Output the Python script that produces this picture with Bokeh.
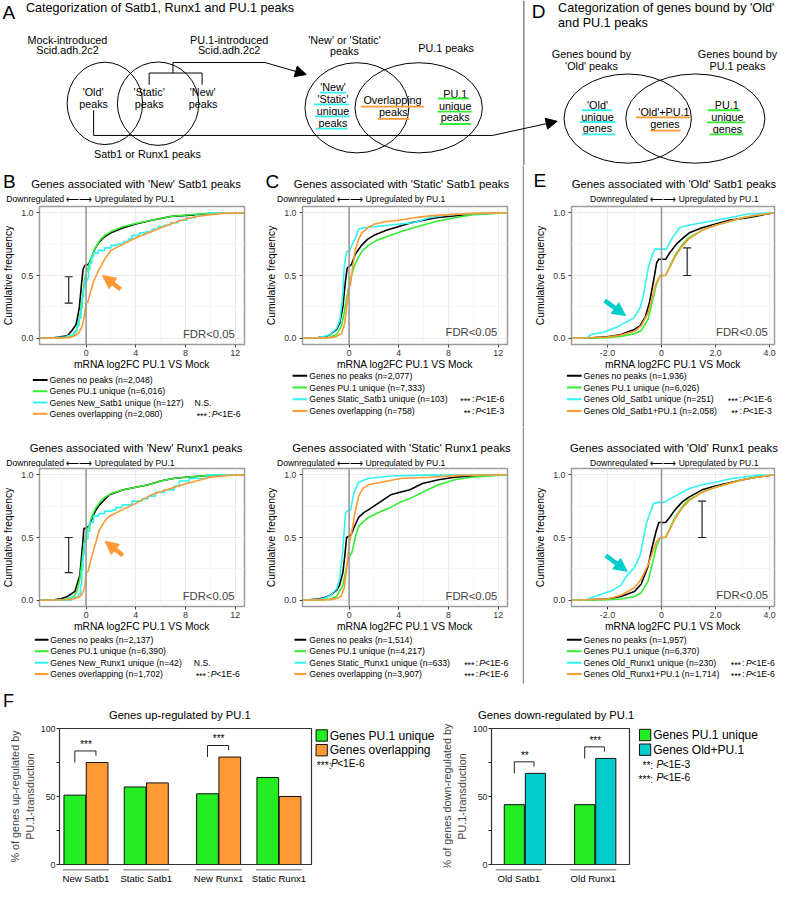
import math
from bokeh.plotting import figure
from bokeh.layouts import column, row
from bokeh.models import (Range1d, FixedTicker, Label, Arrow, NormalHead, TeeHead, Whisker,
                          ColumnDataSource, Span, LinearAxis, NumeralTickFormatter)
from bokeh.core.properties import value
from bokeh.embed import file_html
from bokeh.resources import INLINE

# ======================= DATA =======================
# Panel B (top): genes associated with 'New' Satb1 peaks
ns_black_x = [-3.75, -2.5, -1.5, -1.15, -0.8, -0.55, -0.37, -0.24, -0.1, 0.2, 0.4, 0.7, 1.07, 1.5, 2.0, 3.0, 4.0, 5.3, 6.8, 9.0, 11.5, 12.75]
ns_black_y = [0.0, 0.005, 0.02, 0.06, 0.11, 0.24, 0.43, 0.55, 0.58, 0.59, 0.63, 0.71, 0.77, 0.81, 0.84, 0.88, 0.91, 0.94, 0.97, 0.985, 1.0, 1.0]
ns_green_x = [-3.75, -2.0, -1.5, -1.0, -0.75, -0.5, -0.3, -0.15, 0.0, 0.15, 0.4, 0.75, 1.1, 1.5, 2.0, 3.0, 4.0, 5.3, 6.8, 9.0, 11.5, 12.75]
ns_green_y = [0.0, 0.003, 0.01, 0.03, 0.07, 0.17, 0.32, 0.45, 0.52, 0.56, 0.64, 0.72, 0.78, 0.82, 0.85, 0.89, 0.915, 0.94, 0.97, 0.99, 1.0, 1.0]
ns_cyan_x = [-3.75, -2.6, -1.5, -1.0, -0.75, -0.55, -0.4, -0.3, -0.2, -0.1, 0.1, 0.2, 0.3, 0.45, 0.6, 1.0, 1.5, 2.0, 2.5, 3.0, 3.4, 3.7, 4.3, 4.8, 5.3, 5.8, 6.3, 6.8, 7.4, 8.1, 8.8, 9.8, 12.75]
ns_cyan_y = [0.0, 0.008, 0.02, 0.05, 0.1, 0.16, 0.24, 0.33, 0.4, 0.46, 0.48, 0.55, 0.6, 0.65, 0.68, 0.7, 0.72, 0.74, 0.75, 0.77, 0.79, 0.82, 0.84, 0.85, 0.87, 0.89, 0.9, 0.92, 0.94, 0.96, 0.98, 1.0, 1.0]
ns_orange_x = [-3.75, -1.5, -1.0, -0.6, -0.3, -0.1, 0.0, 0.15, 0.3, 0.6, 1.0, 1.5, 2.0, 3.0, 4.0, 5.3, 6.0, 7.1, 8.0, 8.9, 10.0, 11.0, 12.75]
ns_orange_y = [0.0, 0.005, 0.015, 0.04, 0.1, 0.2, 0.28, 0.29, 0.35, 0.45, 0.54, 0.63, 0.7, 0.75, 0.8, 0.85, 0.88, 0.92, 0.95, 0.97, 0.985, 0.995, 1.0]

# Panel B (bottom): 'New' Runx1 peaks
nr_black_x = [-3.75, -2.5, -2.0, -1.5, -0.9, -0.5, -0.29, -0.18, 0.24, 0.55, 0.8, 1.07, 1.86, 3.0, 4.0, 5.0, 6.0, 7.0, 8.0, 10.0, 12.75]
nr_black_y = [0.0, 0.005, 0.012, 0.03, 0.07, 0.2, 0.43, 0.57, 0.59, 0.67, 0.72, 0.76, 0.84, 0.88, 0.9, 0.92, 0.95, 0.97, 0.98, 0.995, 1.0]
nr_green_x = [-3.75, -2.0, -1.5, -1.0, -0.75, -0.5, -0.3, -0.15, 0.0, 0.15, 0.4, 0.75, 1.1, 1.5, 2.0, 3.0, 4.0, 5.0, 6.0, 7.0, 8.0, 10.0, 12.75]
nr_green_y = [0.0, 0.003, 0.01, 0.03, 0.07, 0.17, 0.33, 0.46, 0.53, 0.57, 0.65, 0.73, 0.78, 0.82, 0.85, 0.88, 0.9, 0.92, 0.95, 0.97, 0.98, 0.995, 1.0]
nr_cyan_x = [-3.75, -1.2, -0.6, -0.45, -0.35, -0.25, -0.15, -0.05, 0.15, 0.3, 0.6, 1.0, 1.5, 2.1, 2.4, 2.9, 3.7, 4.5, 5.0, 5.6, 6.3, 7.1, 7.5, 8.3, 9.7, 12.75]
nr_cyan_y = [0.0, 0.024, 0.05, 0.12, 0.24, 0.36, 0.45, 0.49, 0.55, 0.62, 0.67, 0.69, 0.71, 0.72, 0.74, 0.76, 0.79, 0.81, 0.83, 0.86, 0.88, 0.91, 0.95, 0.97, 1.0, 1.0]
nr_orange_x = [-3.75, -1.5, -1.0, -0.5, -0.25, -0.1, 0.0, 0.16, 0.3, 0.55, 1.07, 1.5, 1.86, 2.9, 3.95, 5.26, 6.8, 8.1, 10.0, 11.5, 12.75]
nr_orange_y = [0.0, 0.004, 0.01, 0.03, 0.06, 0.12, 0.22, 0.23, 0.29, 0.38, 0.56, 0.63, 0.67, 0.72, 0.77, 0.84, 0.89, 0.93, 0.98, 0.995, 1.0]

# Panel C (top): 'Static' Satb1 peaks
ss_black_x = [-3.75, -2.5, -2.0, -1.5, -1.0, -0.75, -0.5, -0.3, -0.15, 0.0, 0.2, 0.5, 1.0, 1.5, 2.0, 3.0, 4.0, 5.0, 6.0, 7.0, 8.0, 10.0, 12.75]
ss_black_y = [0.0, 0.005, 0.01, 0.03, 0.07, 0.12, 0.25, 0.45, 0.56, 0.57, 0.59, 0.67, 0.74, 0.79, 0.82, 0.86, 0.89, 0.92, 0.94, 0.96, 0.97, 0.99, 1.0]
ss_green_x = [-3.75, -2.0, -1.5, -1.0, -0.6, -0.4, -0.2, 0.0, 0.2, 0.4, 0.77, 1.1, 1.55, 2.2, 3.35, 4.2, 5.2, 7.0, 8.5, 10.0, 12.75]
ss_green_y = [0.0, 0.005, 0.01, 0.03, 0.1, 0.2, 0.32, 0.42, 0.5, 0.57, 0.65, 0.7, 0.74, 0.78, 0.82, 0.85, 0.88, 0.93, 0.96, 0.985, 1.0]
ss_cyan_x = [-3.75, -2.5, -2.0, -1.5, -1.0, -0.75, -0.55, -0.39, -0.2, 0.05, 0.26, 0.52, 0.77, 1.3, 3.1, 4.1, 5.2, 6.45, 7.7, 9.0, 12.75]
ss_cyan_y = [0.0, 0.005, 0.015, 0.03, 0.08, 0.14, 0.3, 0.57, 0.69, 0.7, 0.75, 0.8, 0.87, 0.88, 0.9, 0.91, 0.92, 0.96, 0.98, 0.99, 1.0]
ss_orange_x = [-3.75, -1.5, -1.0, -0.6, -0.35, -0.15, 0.0, 0.1, 0.3, 0.5, 0.77, 1.03, 1.5, 2.06, 3.0, 4.0, 5.2, 6.5, 8.0, 10.0, 12.75]
ss_orange_y = [0.0, 0.005, 0.015, 0.04, 0.12, 0.3, 0.41, 0.42, 0.58, 0.7, 0.79, 0.84, 0.88, 0.91, 0.93, 0.94, 0.96, 0.975, 0.985, 0.995, 1.0]

# Panel C (bottom): 'Static' Runx1 peaks
sr_black_x = [-3.75, -2.5, -2.0, -1.5, -1.0, -0.77, -0.5, -0.35, -0.2, 0.15, 0.4, 0.77, 1.2, 1.55, 2.6, 3.35, 4.1, 4.9, 5.9, 7.2, 8.5, 10.0, 12.75]
sr_black_y = [0.0, 0.01, 0.02, 0.04, 0.08, 0.12, 0.22, 0.35, 0.5, 0.52, 0.58, 0.66, 0.7, 0.72, 0.79, 0.84, 0.86, 0.88, 0.93, 0.96, 0.98, 0.99, 1.0]
sr_green_x = [-3.75, -2.0, -1.5, -1.0, -0.5, -0.3, -0.1, 0.0, 0.2, 0.52, 0.77, 1.55, 2.6, 3.35, 4.1, 4.9, 5.9, 7.2, 8.5, 9.8, 12.75]
sr_green_y = [0.0, 0.005, 0.01, 0.03, 0.12, 0.22, 0.32, 0.35, 0.37, 0.51, 0.59, 0.66, 0.71, 0.74, 0.78, 0.81, 0.86, 0.92, 0.96, 0.98, 1.0]
sr_cyan_x = [-3.75, -2.5, -2.0, -1.5, -1.0, -0.77, -0.52, -0.3, -0.2, 0.13, 0.39, 0.77, 1.55, 3.35, 6.0, 12.75]
sr_cyan_y = [0.0, 0.005, 0.015, 0.04, 0.09, 0.17, 0.38, 0.68, 0.71, 0.72, 0.86, 0.94, 0.97, 0.99, 0.997, 1.0]
sr_orange_x = [-3.75, -1.5, -1.0, -0.65, -0.39, -0.2, 0.0, 0.26, 0.52, 0.77, 1.1, 1.55, 2.6, 4.1, 6.45, 9.0, 12.75]
sr_orange_y = [0.0, 0.005, 0.015, 0.03, 0.1, 0.25, 0.44, 0.57, 0.72, 0.83, 0.89, 0.92, 0.94, 0.97, 0.98, 0.995, 1.0]

# Panel E (top): 'Old' Satb1 peaks
os_black_x = [-3.33, -2.5, -2.0, -1.5, -1.0, -0.79, -0.6, -0.45, -0.3, -0.18, -0.1, 0.16, 0.3, 0.55, 0.8, 1.03, 1.5, 2.0, 2.5, 3.2, 3.9, 4.18]
os_black_y = [0.0, 0.005, 0.012, 0.03, 0.07, 0.1, 0.17, 0.28, 0.45, 0.6, 0.63, 0.63, 0.68, 0.75, 0.8, 0.84, 0.88, 0.91, 0.94, 0.96, 0.99, 1.0]
os_green_x = [-3.33, -2.0, -1.5, -1.0, -0.75, -0.5, -0.35, -0.2, -0.05, 0.15, 0.3, 0.5, 0.75, 1.0, 1.5, 2.0, 2.5, 3.0, 3.5, 4.18]
os_green_y = [0.0, 0.005, 0.015, 0.035, 0.06, 0.15, 0.28, 0.42, 0.5, 0.5, 0.57, 0.66, 0.74, 0.8, 0.86, 0.9, 0.93, 0.96, 0.98, 1.0]
os_cyan_x = [-3.33, -2.75, -2.6, -2.12, -1.64, -1.3, -1.03, -0.8, -0.67, -0.48, -0.35, -0.24, 0.18, 0.4, 0.67, 1.0, 1.5, 2.0, 2.5, 3.2, 4.18]
os_cyan_y = [0.0, 0.005, 0.03, 0.05, 0.09, 0.13, 0.16, 0.24, 0.34, 0.57, 0.66, 0.71, 0.71, 0.8, 0.88, 0.9, 0.92, 0.94, 0.96, 0.99, 1.0]
os_orange_x = [-3.33, -2.0, -1.5, -1.0, -0.75, -0.5, -0.35, -0.2, -0.05, 0.15, 0.3, 0.5, 0.75, 1.0, 1.5, 2.0, 2.5, 3.0, 3.5, 4.18]
os_orange_y = [0.0, 0.01, 0.025, 0.055, 0.1, 0.2, 0.32, 0.44, 0.5, 0.5, 0.56, 0.65, 0.73, 0.79, 0.86, 0.9, 0.93, 0.96, 0.98, 1.0]

# Panel E (bottom): 'Old' Runx1 peaks
or_black_x = [-3.33, -2.0, -1.5, -1.0, -0.75, -0.5, -0.35, -0.2, -0.1, 0.15, 0.3, 0.5, 0.75, 1.0, 1.5, 2.0, 3.0, 3.5, 4.18]
or_black_y = [0.0, 0.01, 0.03, 0.07, 0.13, 0.27, 0.42, 0.55, 0.62, 0.62, 0.66, 0.72, 0.78, 0.82, 0.88, 0.91, 0.96, 0.98, 1.0]
or_green_x = [-3.33, -2.0, -1.5, -1.0, -0.75, -0.5, -0.35, -0.2, -0.05, 0.15, 0.3, 0.5, 0.75, 1.0, 1.5, 2.0, 2.5, 3.0, 3.5, 4.18]
or_green_y = [0.0, 0.005, 0.01, 0.03, 0.06, 0.15, 0.28, 0.42, 0.5, 0.5, 0.57, 0.66, 0.74, 0.8, 0.86, 0.9, 0.93, 0.96, 0.98, 1.0]
or_cyan_x = [-3.33, -2.75, -2.6, -2.2, -1.8, -1.5, -1.27, -1.0, -0.79, -0.55, -0.3, -0.15, 0.1, 0.42, 1.03, 1.5, 2.0, 2.6, 3.0, 3.5, 4.18]
or_cyan_y = [0.0, 0.005, 0.02, 0.05, 0.08, 0.12, 0.2, 0.26, 0.36, 0.62, 0.77, 0.78, 0.78, 0.82, 0.89, 0.92, 0.94, 0.97, 0.98, 0.995, 1.0]
or_orange_x = [-3.33, -2.0, -1.5, -1.0, -0.75, -0.5, -0.35, -0.2, -0.05, 0.15, 0.3, 0.5, 0.75, 1.0, 1.5, 2.0, 2.5, 3.0, 3.5, 4.18]
or_orange_y = [0.0, 0.01, 0.04, 0.1, 0.17, 0.28, 0.37, 0.46, 0.5, 0.5, 0.56, 0.65, 0.73, 0.79, 0.86, 0.9, 0.93, 0.96, 0.98, 1.0]

# error bars [x, low, high] and arrows [x_tail, y_tail, x_tip, y_tip]
ns_err = [-1.4, 0.28, 0.49]
nr_err = [-1.4, 0.22, 0.50]
os_err = [0.95, 0.50, 0.72]
or_err = [1.5, 0.50, 0.79]
ns_arrow = [2.77, 0.39, 1.33, 0.50]
nr_arrow = [2.96, 0.356, 1.54, 0.47]
os_arrow = [-2.1, 0.30, -1.33, 0.18]
or_arrow = [-2.06, 0.356, -1.27, 0.23]

# legends
ns_legend = ["Genes no peaks (n=2,048)", "Genes PU.1 unique (n=6,016)", "Genes New_Satb1 unique (n=127)", "Genes overlapping (n=2,080)"]
ns_sig = [None, None, "N.S.", ("***", "<1E-6")]
nr_legend = ["Genes no peaks (n=2,137)", "Genes PU.1 unique (n=6,390)", "Genes New_Runx1 unique (n=42)", "Genes overlapping (n=1,702)"]
nr_sig = [None, None, "N.S.", ("***", "<1E-6")]
ss_legend = ["Genes no peaks (n=2,077)", "Genes PU.1 unique (n=7,333)", "Genes Static_Satb1 unique (n=103)", "Genes overlapping (n=758)"]
ss_sig = [None, None, ("***", "<1E-6"), ("**", "<1E-3")]
sr_legend = ["Genes no peaks (n=1,514)", "Genes PU.1 unique (n=4,217)", "Genes Static_Runx1 unique (n=633)", "Genes overlapping (n=3,907)"]
sr_sig = [None, None, ("***", "<1E-6"), ("***", "<1E-6")]
os_legend = ["Genes no peaks (n=1,936)", "Genes PU.1 unique (n=6,026)", "Genes Old_Satb1 unique (n=251)", "Genes Old_Satb1+PU.1 (n=2,058)"]
os_sig = [None, None, ("***", "<1E-6"), ("**", "<1E-3")]
or_legend = ["Genes no peaks (n=1,957)", "Genes PU.1 unique (n=6,370)", "Genes Old_Runx1 unique (n=230)", "Genes Old_Runx1+PU.1 (n=1,714)"]
or_sig = [None, None, ("***", "<1E-6"), ("***", "<1E-6")]

# Panel F
up_groups = ["New Satb1", "Static Satb1", "New Runx1", "Static Runx1"]
up_pu1_unique = [51, 57, 52, 64]
up_overlapping = [75, 60, 79, 50]
up_sig = ["***", "", "***", ""]
down_groups = ["Old Satb1", "Old Runx1"]
down_pu1_unique = [44, 44]
down_old_pu1 = [67, 78]
down_sig = ["**", "***"]

# ======================= STYLE / LAYOUT =======================
FONT = "Liberation Sans"
S = 0.98
C_BLACK = "#000000"
C_GREEN = "#33ee33"
C_CYAN = "#33f2f2"
C_ORANGE = "#ff9933"
C_TEAL = "#00cccc"
C_BAR_GREEN = "#22ee22"
C_BAR_ORANGE = "#ff9933"
SEP = "#8c8c8c"

ROW_Y = [0, 165, 427, 690]
ROW_H = [165, 262, 263, 194]
COL_X = {"B": 0, "C": 260, "E": 524}
COL_W = {"B": 260, "C": 262, "E": 260}
FR_X = {"B": (39, 249), "C": (308, 517), "E": (583, 790)}
FR_Y = {1: (210.3, 350.7), 2: (477.6, 618.7)}
PLOT_TOP = 1


def canvas(w, h, px, py):
    """A figure whose data coordinates are the reference-image pixel coordinates."""
    f = figure(width=w, height=h, x_range=Range1d(px / S, (px + w) / S),
               y_range=Range1d((py + h) / S, py / S), x_axis_type=None, y_axis_type=None,
               output_backend="svg", toolbar_location=None, tools="", title=None,
               min_border=0, min_border_left=0, min_border_right=0,
               min_border_top=0, min_border_bottom=0)
    f.outline_line_color = None
    return f


def txt(f, x, y, text, size, align="left", style="normal", color="black", angle=0.0):
    f.text(x=[x], y=[y], text=[text], text_font=value(FONT), text_font_size=f"{size}px",
           text_align=align, text_baseline="middle", text_color=color,
           text_font_style=style, angle=angle)


def solo(*figs):
    """Wrap each figure in its own row so layouts do not align their frames."""
    return [row(f) for f in figs]


def cdf_panel(col, ri, xr, xticks, xminor, xover, curves, step_idx, err, arw, arw_color,
              title, title_c, sub_c, letter, letter_c, fdr_c, rows_y, line_x, text_x,
              legend, sigs, colon_x, ns_x):
    W, H = COL_W[col], ROW_H[ri]
    left = round(S * FR_X[col][0] - COL_X[col])
    r_edge = round(S * FR_X[col][1] - COL_X[col])
    top = round(S * FR_Y[ri][0] - ROW_Y[ri])
    b_edge = round(S * FR_Y[ri][1] - ROW_Y[ri])
    head_h = top - PLOT_TOP
    plot_h = (b_edge - top) + PLOT_TOP + 28
    foot_h = H - head_h - plot_h
    fx0 = COL_X[col] + left
    fy1 = ROW_Y[ri] + b_edge

    def scr(rx, ry):
        return (S * rx - fx0, fy1 - S * ry)

    head = canvas(W, head_h, COL_X[col], ROW_Y[ri])
    foot = canvas(W, foot_h, COL_X[col], ROW_Y[ri] + head_h + plot_h)

    p = figure(width=W, height=plot_h, x_range=Range1d(*xr), y_range=Range1d(-0.05, 1.05),
               output_backend="svg", toolbar_location=None, tools="", title=None,
               min_border_left=left, min_border_right=W - r_edge,
               min_border_top=PLOT_TOP, min_border_bottom=28)
    p.outline_line_color = "#9b9b9b"
    p.outline_line_width = 1.5
    xt = FixedTicker(ticks=xticks, minor_ticks=xminor)
    yt = FixedTicker(ticks=[0, 0.5, 1.0], minor_ticks=[0.25, 0.75])
    p.xaxis.ticker = xt
    p.xgrid.ticker = xt
    p.yaxis.ticker = yt
    p.ygrid.ticker = yt
    p.yaxis.formatter = NumeralTickFormatter(format="0.0")
    if xover:
        p.xaxis.major_label_overrides = xover
    for g in (p.xgrid, p.ygrid):
        g.grid_line_color = "#ebebeb"
        g.grid_line_width = 1
        g.minor_grid_line_color = "#f5f5f5"
        g.minor_grid_line_width = 0.8
    for ax in (p.xaxis, p.yaxis):
        ax.axis_line_color = None
        ax.major_tick_line_color = "#444444"
        ax.major_tick_out = 3
        ax.major_tick_in = 0
        ax.minor_tick_line_color = None
        ax.major_label_text_font = FONT
        ax.major_label_text_font_size = "8.8px"
        ax.major_label_text_color = "#333333"
        ax.axis_label_text_font = FONT
        ax.axis_label_text_font_size = "10.3px"
        ax.axis_label_text_font_style = "normal"
        ax.axis_label_text_color = "black"
    p.xaxis.major_label_standoff = 1
    p.xaxis.axis_label_standoff = 0
    p.yaxis.major_label_standoff = 2
    p.yaxis.axis_label_standoff = 4
    p.xaxis.axis_label = "mRNA log2FC PU.1 VS Mock"
    p.yaxis.axis_label = "Cumulative frequency"

    colors = [C_BLACK, C_GREEN, C_CYAN, C_ORANGE]
    for i, (cx, cy) in enumerate(curves):
        if i == step_idx:
            p.step(cx, cy, mode="after", line_color=colors[i], line_width=1.6)
        else:
            p.line(cx, cy, line_color=colors[i], line_width=1.6)
    p.add_layout(Span(location=0, dimension="height", line_color="#9a9a9a", line_width=1.6))

    if err is not None:
        src = ColumnDataSource(dict(base=[err[0]], lower=[err[1]], upper=[err[2]]))
        p.add_layout(Whisker(source=src, base="base", lower="lower", upper="upper",
                             dimension="height", line_color="#222222", line_width=1.2,
                             upper_head=TeeHead(size=8, line_color="#222222", line_width=1.2),
                             lower_head=TeeHead(size=8, line_color="#222222", line_width=1.2)))
    if arw is not None:
        p.add_layout(Arrow(end=NormalHead(size=13, fill_color=arw_color, line_color=arw_color),
                           x_start=arw[0], y_start=arw[1], x_end=arw[2], y_end=arw[3],
                           line_color=arw_color, line_width=4.5))
    fx, fy = scr(*fdr_c)
    p.add_layout(Label(x=fx, y=fy, x_units="screen", y_units="screen", text="FDR<0.05",
                       text_font=FONT, text_font_size="11.3px", text_align="right",
                       text_baseline="middle"))

    # header texts
    txt(head, title_c[0], title_c[1], title, 11.3, align="center")
    txt(head, sub_c[0], sub_c[1], "Downregulated \u27f5\u27f6 Upregulated by PU.1", 8.6, align="center")
    if letter:
        txt(head, letter_c[0], letter_c[1], letter, 19)

    # legend (footer)
    for i, t in enumerate(legend):
        y = rows_y[i]
        foot.segment(x0=[line_x[0]], y0=[y], x1=[line_x[1]], y1=[y], line_color=colors[i], line_width=2)
        txt(foot, text_x, y, t, 8.7)
        sg = sigs[i]
        if sg is None:
            continue
        if isinstance(sg, str):
            txt(foot, ns_x, y, sg, 8.7)
        else:
            txt(foot, colon_x - 1.5, y + 2, sg[0], 8.7, align="right")
            txt(foot, colon_x, y, ":", 8.7)
            txt(foot, colon_x + 3.6, y, "P", 8.7, style="italic")
            txt(foot, colon_x + 9.2, y, sg[1], 8.7)
    return column(*solo(head, p, foot))


def sep_fig(H, bottom):
    s = figure(width=2, height=H, x_range=Range1d(0, 1), y_range=Range1d(0, H),
               x_axis_type=None, y_axis_type=None,
               output_backend="svg", toolbar_location=None, tools="", title=None,
               min_border=0, min_border_left=0, min_border_right=0,
               min_border_top=0, min_border_bottom=0)
    s.outline_line_color = None
    s.quad(left=[0], right=[1], bottom=[bottom], top=[H], fill_color=SEP, line_color=None)
    return row(s)


# ---------------- diagram (A and D) ----------------
def diagram():
    d = canvas(784, 165, 0, 0)
    d.ellipse(x=[106.5, 160.8, 363.7, 426.7, 640, 709], y=[105, 105.3, 109.5, 109.5, 120.5, 120.5],
              width=[77, 83, 106, 130, 130, 142], height=[84, 85, 92, 92, 91, 91],
              fill_color=None, line_color="black", line_width=1)
    d.segment(x0=[534], y0=[0], x1=[534], y1=[170], line_color=SEP, line_width=1.6)
    d.line([151.7, 151.7, 205.7, 205.7], [86, 74, 74, 86], line_color="black", line_width=1)
    d.line([176, 176, 270], [74, 63.3, 63.3], line_color="black", line_width=1)
    d.line([95, 95, 502], [112, 137.7, 137.7], line_color="black", line_width=1)
    d.add_layout(Arrow(end=NormalHead(size=11, fill_color="black", line_color="black"),
                       x_start=270, y_start=63.3, x_end=312, y_end=75.5,
                       line_color="black", line_width=1))
    d.add_layout(Arrow(end=NormalHead(size=11, fill_color="black", line_color="black"),
                       x_start=502, y_start=137.7, x_end=568, y_end=123.3,
                       line_color="black", line_width=1))
    d.text(x=[2, 542], y=[12, 11.5], text=["A", "D"], text_font=value(FONT),
           text_font_size="19px", text_align="left", text_baseline="middle")
    d.text(x=[26, 569, 569], y=[8, 8, 23],
           text=["Categorization of Satb1, Runx1 and PU.1 peaks",
                 "Categorization of genes bound by 'Old'", "and PU.1 peaks"],
           text_font=value(FONT), text_font_size="12.6px", text_align="left", text_baseline="middle")
    tx = [68.3, 68.3, 233.3, 233.3, 94.5, 95, 151.7, 151.7, 206.3, 206.7, 150,
          351, 351, 454.7,
          339.3, 339.3, 339.3, 339.3, 400, 400.8, 464, 464, 464,
          603, 603, 752, 752,
          609.2, 609.2, 609.2, 677, 678, 741, 741.7, 741.7]
    ty = [40, 51, 40, 51, 93.3, 106, 93.3, 106, 93.3, 106, 156.5,
          40, 52, 48.3,
          88, 100, 112.7, 125, 101.7, 113.3, 95, 107.3, 119,
          55, 67, 55, 67,
          107, 119, 130, 114, 126, 107, 119, 130.7]
    tt = ["Mock-introduced", "Scid.adh.2c2", "PU.1-introduced", "Scid.adh.2c2",
          "'Old'", "peaks", "'Static'", "peaks", "'New'", "peaks", "Satb1 or Runx1 peaks",
          "'New' or 'Static'", "peaks", "PU.1 peaks",
          "'New'", "'Static'", "unique", "peaks", "Overlapping", "peaks", "PU.1", "unique", "peaks",
          "Genes bound by", "'Old' peaks", "Genes bound by", "PU.1 peaks",
          "'Old'", "unique", "genes", "'Old'+PU.1", "genes", "PU.1", "unique", "genes"]
    d.text(x=tx, y=ty, text=tt, text_font=value(FONT), text_font_size="10.8px",
           text_align="center", text_baseline="middle")
    ul = [(326, 352.7, 94, C_CYAN), (320, 356, 106, C_CYAN), (320.7, 356, 118.3, C_CYAN),
          (321.7, 354, 130.7, C_CYAN), (367.7, 432.3, 108.3, C_ORANGE), (385, 417.3, 120.7, C_ORANGE),
          (446.7, 478.3, 100, C_GREEN), (446, 480.7, 113.3, C_GREEN), (448.3, 480, 126, C_GREEN),
          (593.3, 624, 112, C_CYAN), (591, 627.3, 124, C_CYAN), (593.3, 627.3, 136.7, C_CYAN),
          (648.3, 704, 119.3, C_ORANGE), (663.3, 694, 132.7, C_ORANGE),
          (721.7, 755, 112, C_GREEN), (721, 760, 124.3, C_GREEN), (723.3, 758.3, 136.7, C_GREEN)]
    d.segment(x0=[u[0] for u in ul], y0=[u[2] for u in ul], x1=[u[1] for u in ul],
              y1=[u[2] for u in ul], line_color=[u[3] for u in ul], line_width=1.8)
    return d


# ---------------- bar panels (F) ----------------
F_Y = 690
F_HEAD = 32
F_PT = 6
F_PB = 4
F_MID = F_PT + 136 + F_PB
F_FOOT = 194 - F_HEAD - F_MID


def bar_plot(width, left, xr, pos, off, bw, v1, v2, c2, sigs, ylab1, ylab2):
    p = figure(width=width, height=F_MID, x_range=Range1d(*xr), y_range=Range1d(0, 100),
               output_backend="svg", toolbar_location=None, tools="", title=None,
               min_border_left=left, min_border_right=2, min_border_top=F_PT,
               min_border_bottom=F_PB, x_axis_type=None)
    p.outline_line_color = "#333333"
    p.outline_line_width = 1.2
    p.grid.visible = False
    yt = FixedTicker(ticks=[0, 25, 50, 75, 100])
    p.yaxis.ticker = yt
    p.yaxis.major_label_overrides = {25: "", 75: ""}
    p.yaxis.axis_line_color = None
    p.yaxis.major_tick_line_color = "#222222"
    p.yaxis.major_tick_out = 3
    p.yaxis.major_tick_in = 0
    p.yaxis.minor_tick_line_color = None
    p.yaxis.major_label_standoff = 1
    p.yaxis.major_label_text_font = FONT
    p.yaxis.major_label_text_font_size = "8.8px"
    p.yaxis.major_label_text_color = "#222222"
    p.yaxis.axis_label = ylab2
    p.yaxis.axis_label_standoff = 2
    p.yaxis.axis_label_text_font = FONT
    p.yaxis.axis_label_text_font_size = "10.8px"
    p.yaxis.axis_label_text_font_style = "normal"
    outer = LinearAxis(axis_label=ylab1, ticker=FixedTicker(ticks=[]), axis_line_color=None,
                       major_tick_line_color=None, minor_tick_line_color=None,
                       major_tick_out=0, major_tick_in=0, major_label_standoff=0,
                       major_label_text_font_size="0px", axis_label_standoff=0,
                       axis_label_text_font=FONT, axis_label_text_font_size="10.8px",
                       axis_label_text_font_style="normal")
    p.add_layout(outer, "left")

    p.vbar(x=[g - off for g in pos], top=v1, width=bw, fill_color=C_BAR_GREEN,
           line_color="#111111", line_width=1)
    p.vbar(x=[g + off for g in pos], top=v2, width=bw, fill_color=c2,
           line_color="#111111", line_width=1)
    for g, a, b, s in zip(pos, v1, v2, sigs):
        if not s:
            continue
        m = max(a, b)
        tp = m + 8.5
        p.line([g - off, g - off, g + off - 0.02, g + off - 0.02], [m, tp, tp, m + 5],
               line_color="#222222", line_width=1)
        p.text(x=[g], y=[tp + 0.8], text=[s], text_font=value(FONT), text_font_size="10px",
               text_align="center", text_baseline="bottom")
    return p


def bar_foot(width, left, plot, pos, groups, gl_half):
    y0 = (F_Y + F_HEAD + F_MID) / S
    f = figure(width=width, height=F_FOOT, x_range=plot.x_range,
               y_range=Range1d((F_Y + F_HEAD + F_MID + F_FOOT) / S, y0),
               x_axis_type=None, y_axis_type=None, output_backend="svg",
               toolbar_location=None, tools="", title=None,
               min_border_left=left, min_border_right=2, min_border_top=0, min_border_bottom=0)
    f.outline_line_color = None
    f.segment(x0=[g - gl_half for g in pos], y0=[887] * len(pos), x1=[g + gl_half for g in pos],
              y1=[887] * len(pos), line_color="#999999", line_width=1.5)
    f.text(x=pos, y=[896.0] * len(pos), text=groups, text_font=value(FONT),
           text_font_size="9.6px", text_align="center", text_baseline="middle")
    return f


def legend_box(f, x, ys, colors, labels, tx):
    f.quad(left=[x] * 2, right=[x + 11.5] * 2, top=[y - 5.8 for y in ys],
           bottom=[y + 5.8 for y in ys], fill_color=colors, line_color="#111111", line_width=1)
    for y, lb in zip(ys, labels):
        txt(f, tx, y, lb, 12)


# left bar chart: frame page x 59..311 ; right bar chart: frame page x 483..629
FL_LEFT, FL_W = 59, 313
FR_LEFT = 46
FR_X0 = 483 - FR_LEFT
FR_W = FR_LEFT + 146 + 2
MID_W = FR_X0 - FL_W
RR_W = 784 - FR_X0 - FR_W

fl = bar_plot(FL_W, FL_LEFT, (0.561, 4.74), [1, 2, 3.2, 4.2], 0.185, 0.36,
              up_pu1_unique, up_overlapping, C_BAR_ORANGE, up_sig,
              "% of genes up-regulated by", "PU.1-transduction")
fr = bar_plot(FR_W, FR_LEFT, (0.526, 2.487), [1, 2], 0.15, 0.286,
              down_pu1_unique, down_old_pu1, C_TEAL, down_sig,
              "% of genes down-regulated by", "PU.1-transduction")

f_head = canvas(784, F_HEAD, 0, F_Y)
txt(f_head, 2.5, 715, "F", 18)
txt(f_head, 183, 729, "Genes up-regulated by PU.1", 11.2, align="center")
txt(f_head, 567, 729, "Genes down-regulated by PU.1", 11.2, align="center")

mid = canvas(MID_W, F_MID, FL_W, F_Y + F_HEAD)
legend_box(mid, 322, [750, 765], [C_BAR_GREEN, C_BAR_ORANGE], ["Genes PU.1 unique", "Genes overlapping"], 336)
txt(mid, 322.7, 780.5, "***:", 10.2)
txt(mid, 337.3, 779, "P", 10.2, style="italic")
txt(mid, 343.5, 779, "<1E-6", 10.2)

rr = canvas(RR_W, F_MID, FR_X0 + FR_W, F_Y + F_HEAD)
legend_box(rr, 652, [749.5, 764.5], [C_BAR_GREEN, C_TEAL], ["Genes PU.1 unique", "Genes Old+PU.1"], 666)
for yy, st, pv in [(779.3, "**:", "<1E-3"), (793.3, "***:", "<1E-6")]:
    txt(rr, 666, yy + 1.5, st, 10.2, align="right")
    txt(rr, 669.5, yy, "P", 10.2, style="italic")
    txt(rr, 675.7, yy, pv, 10.2)

fl_foot = bar_foot(FL_W, FL_LEFT, fl, [1, 2, 3.2, 4.2], up_groups, 0.38)
fr_foot = bar_foot(FR_W, FR_LEFT, fr, [1, 2], down_groups, 0.31)
mid_foot = canvas(MID_W, F_FOOT, FL_W, F_Y + F_HEAD + F_MID)
rr_foot = canvas(RR_W, F_FOOT, FR_X0 + FR_W, F_Y + F_HEAD + F_MID)

F_block = column(row(f_head),
                 row(*solo(fl, mid, fr, rr)),
                 row(*solo(fl_foot, mid_foot, fr_foot, rr_foot)))

# ---------------- CDF panels ----------------
B1 = cdf_panel("B", 1, (-3.75, 12.75), [0, 4, 8, 12], [-2, 2, 6, 10], None,
               [(ns_black_x, ns_black_y), (ns_green_x, ns_green_y), (ns_cyan_x, ns_cyan_y),
                (ns_orange_x, ns_orange_y)], 2, ns_err, ns_arrow, C_ORANGE,
               "Genes associated with 'New' Satb1 peaks", (138.3, 187), (91.7, 203), "B", (2.5, 185),
               (238, 340), [387.3, 398.8, 410.3, 421.8], (33, 48), 50, ns_legend, ns_sig, 212, 198)
C1 = cdf_panel("C", 1, (-3.75, 12.75), [0, 4, 8, 12], [-2, 2, 6, 10], None,
               [(ss_black_x, ss_black_y), (ss_green_x, ss_green_y), (ss_cyan_x, ss_cyan_y),
                (ss_orange_x, ss_orange_y)], -1, None, None, None,
               "Genes associated with 'Static' Satb1 peaks", (409.2, 187), (368, 203), "C", (270.5, 185),
               (507, 338), [383, 395, 407, 419], (298, 313), 315, ss_legend, ss_sig, 481, 470)
E1 = cdf_panel("E", 1, (-3.33, 4.18), [-2, 0, 2, 4], [-3, -1, 1, 3],
               {-2: "-2.0", 0: "0", 2: "2.0", 4: "4.0"},
               [(os_black_x, os_black_y), (os_green_x, os_green_y), (os_cyan_x, os_cyan_y),
                (os_orange_x, os_orange_y)], -1, os_err, os_arrow, C_TEAL,
               "Genes associated with 'Old' Satb1 peaks", (687.2, 187), (687.5, 203), "E", (544, 184),
               (783, 338), [383, 395, 407, 419], (578, 593), 595, os_legend, os_sig, 754, 740)
B2 = cdf_panel("B", 2, (-3.75, 12.75), [0, 4, 8, 12], [-2, 2, 6, 10], None,
               [(nr_black_x, nr_black_y), (nr_green_x, nr_green_y), (nr_cyan_x, nr_cyan_y),
                (nr_orange_x, nr_orange_y)], 2, nr_err, nr_arrow, C_ORANGE,
               "Genes associated with 'New' Runx1 peaks", (138.3, 456.5), (91.7, 471.5), None, None,
               (237.7, 607.3), [652.3, 664, 675.7, 687.3], (35, 49), 50.7, nr_legend, nr_sig, 211, 197.3)
C2 = cdf_panel("C", 2, (-3.75, 12.75), [0, 4, 8, 12], [-2, 2, 6, 10], None,
               [(sr_black_x, sr_black_y), (sr_green_x, sr_green_y), (sr_cyan_x, sr_cyan_y),
                (sr_orange_x, sr_orange_y)], -1, None, None, None,
               "Genes associated with 'Static' Runx1 peaks", (409.2, 456.5), (368, 471.5), None, None,
               (507, 607.3), [652.3, 664, 675.7, 687.3], (300, 312), 315, sr_legend, sr_sig, 485, 470)
E2 = cdf_panel("E", 2, (-3.33, 4.18), [-2, 0, 2, 4], [-3, -1, 1, 3],
               {-2: "-2.0", 0: "0", 2: "2.0", 4: "4.0"},
               [(or_black_x, or_black_y), (or_green_x, or_green_y), (or_cyan_x, or_cyan_y),
                (or_orange_x, or_orange_y)], -1, or_err, or_arrow, C_TEAL,
               "Genes associated with 'Old' Runx1 peaks", (687.2, 456.5), (687.5, 471.5), None, None,
               (783.3, 606.7), [652.3, 664, 675.7, 687.3], (578, 593), 595, or_legend, or_sig, 757, 740)

layout = column(
    row(diagram()),
    row(B1, C1, sep_fig(262, 0), E1),
    row(B2, C2, sep_fig(263, 7), E2),
    F_block,
)

open("out.html", "w").write(file_html(layout, INLINE, title="PU.1 peaks"))
